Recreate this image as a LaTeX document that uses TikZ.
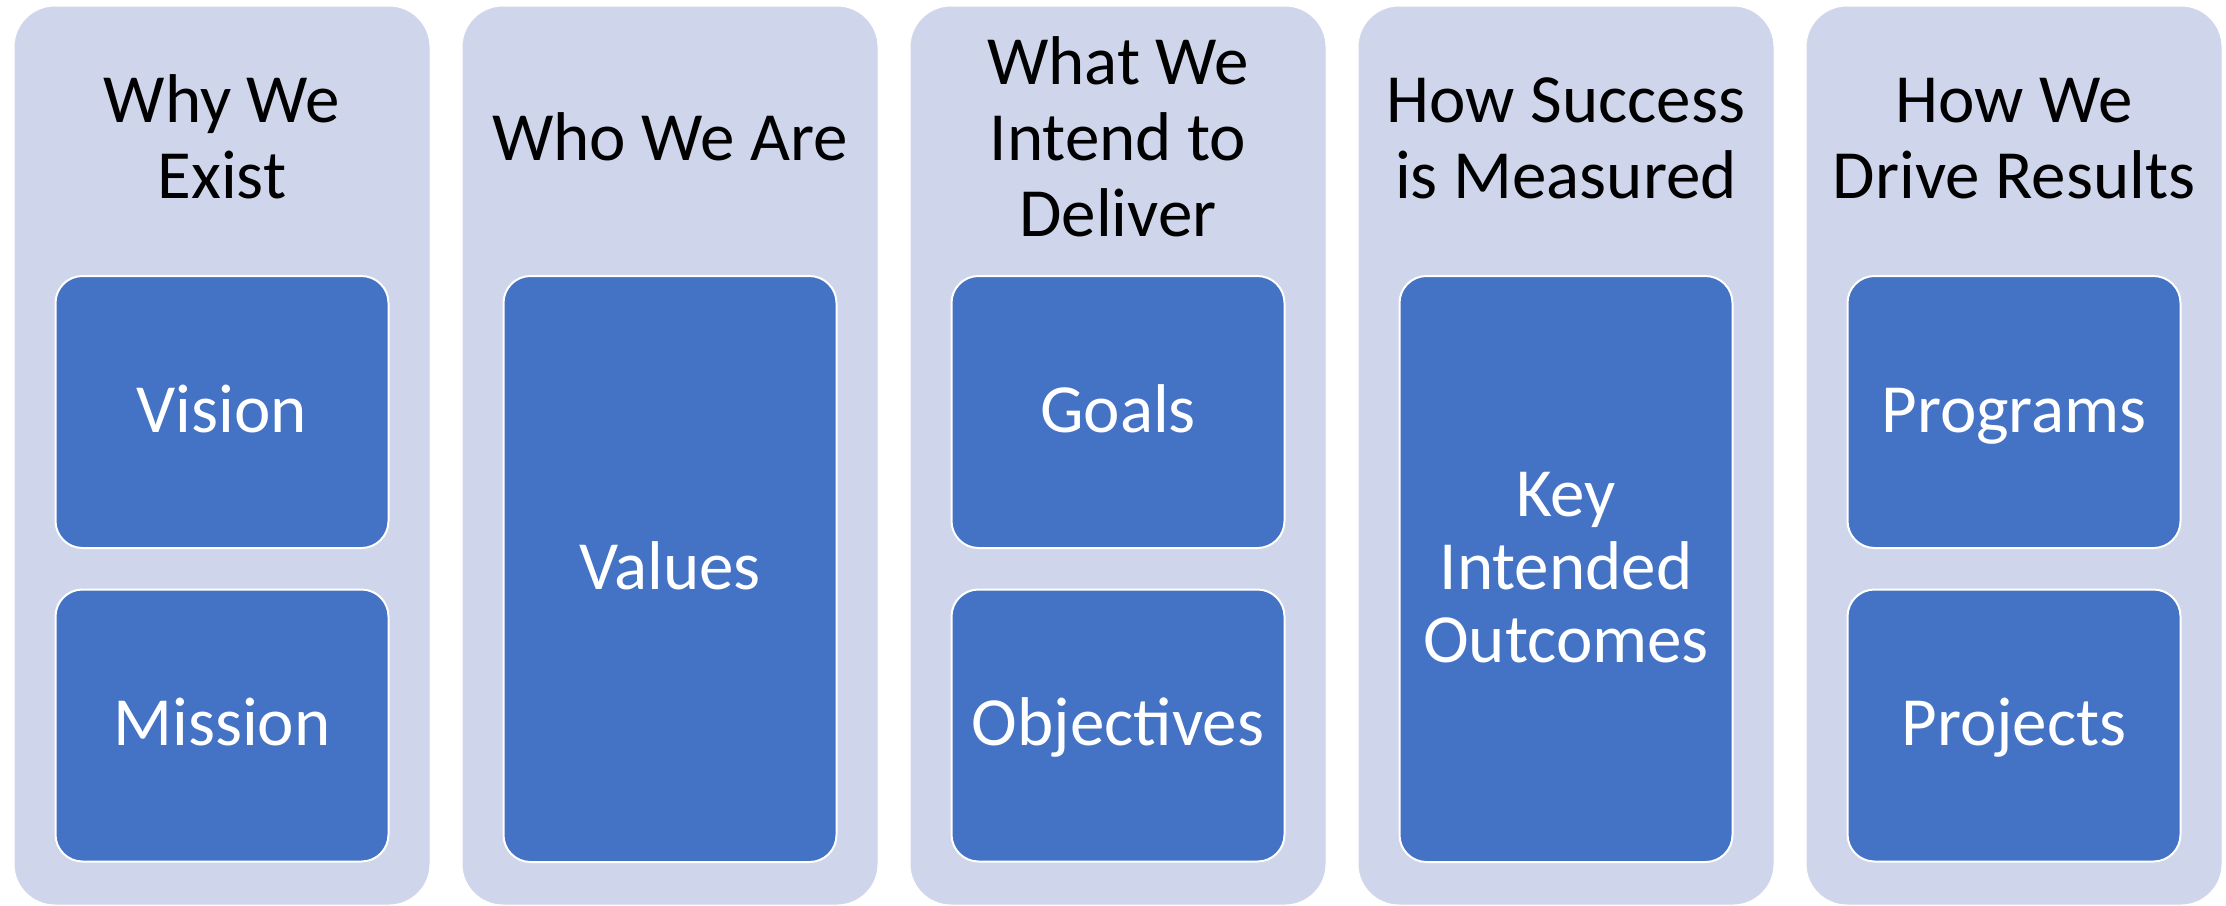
\documentclass[tikz,border=0pt]{standalone}
\usepackage{fontspec}
\setmainfont{Carlito}
\definecolor{colbg}{HTML}{CFD5EA}
\definecolor{boxbg}{HTML}{4472C4}
\newcommand\hdstrut{\rule[-19pt]{0pt}{76pt}}
\newcommand\bxstrut{\rule[-16.5pt]{0pt}{73pt}}
\begin{document}
\begin{tikzpicture}[x=1pt,y=1pt,
  colbox/.style={rectangle, rounded corners=41pt, fill=colbg, draw=white, line width=1pt,
     minimum width=416pt, minimum height=899pt, inner sep=0pt},
  innerbox/.style={rectangle, rounded corners=27pt, fill=boxbg, draw=white, line width=2pt,
     minimum width=333pt, inner sep=0pt, text=white, align=center,
     font=\fontsize{69}{73}\selectfont},
  shortbox/.style={innerbox, minimum height=272pt},
  tallbox/.style={innerbox, minimum height=586pt},
  headtext/.style={align=center, text=black, inner sep=0pt, font=\fontsize{69}{76}\selectfont}]
\useasboundingbox (0,0) rectangle (2226,-905);
\fill[white] (0,0) rectangle (2226,-905);
% columns
\node[colbox] (c1) at (222,-455.5) {};
\node[colbox] (c2) at (670,-455.5) {};
\node[colbox] (c3) at (1118,-455.5) {};
\node[colbox] (c4) at (1566,-455.5) {};
\node[colbox] (c5) at (2014,-455.5) {};
% headers
\node[headtext] (h1) at (222,-141) {\hdstrut Why We\\\hdstrut Exist};
\node[headtext] (h2) at (670,-141) {\hdstrut Who We Are};
\node[headtext] (h3) at (1118,-141) {\hdstrut What We\\\hdstrut Intend to\\\hdstrut Deliver};
\node[headtext] (h4) at (1566,-141) {\hdstrut How Success\\\hdstrut is Measured};
\node[headtext] (h5) at (2014,-141) {\hdstrut How We\\\hdstrut Drive Results};
% inner boxes
\node[shortbox] (vision) at (222,-412) {\bxstrut Vision};
\node[shortbox] (mission) at (222,-725.5) {\bxstrut Mission};
\node[tallbox] (values) at (670,-569) {\bxstrut Values};
\node[shortbox] (goals) at (1118,-412) {\bxstrut Goals};
\node[shortbox] (objectives) at (1118,-725.5) {\bxstrut Objectives};
\node[tallbox] (kio) at (1566,-569) {\bxstrut Key\\\bxstrut Intended\\\bxstrut Outcomes};
\node[shortbox] (programs) at (2014,-412) {\bxstrut Programs};
\node[shortbox] (projects) at (2014,-725.5) {\bxstrut Projects};
\end{tikzpicture}
\end{document}
